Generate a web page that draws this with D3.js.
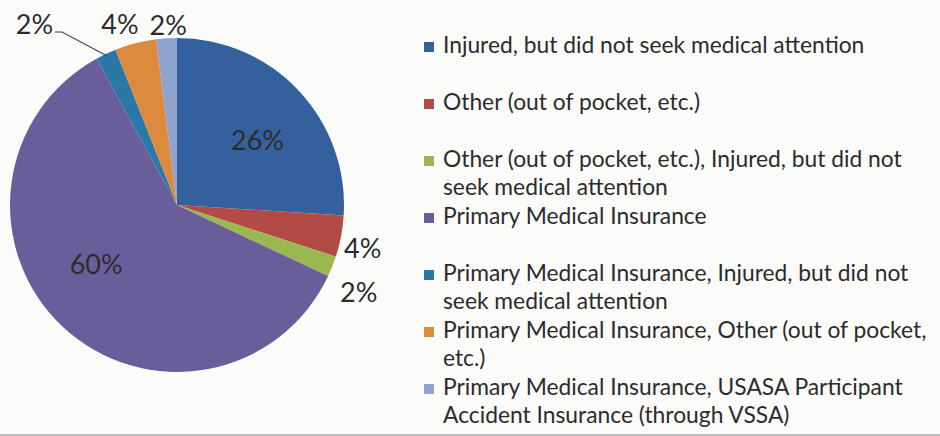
<!DOCTYPE html>
<html>
<head>
<meta charset="utf-8">
<script src="https://cdn.jsdelivr.net/npm/d3@7/dist/d3.min.js"></script>
<style>
  body { margin: 0; background: #fbfbfa; }
  svg { display: block; }
  text { font-family: Lato, "Open Sans", sans-serif; fill: #2b2b2b; }
</style>
</head>
<body>
<svg width="940" height="436"></svg>
<script>
// data
var categories = [
    "Injured, but did not seek medical attention",
    "Other (out of pocket, etc.)",
    "Other (out of pocket, etc.), Injured, but did not seek medical attention",
    "Primary Medical Insurance",
    "Primary Medical Insurance, Injured, but did not seek medical attention",
    "Primary Medical Insurance, Other (out of pocket, etc.)",
    "Primary Medical Insurance, USASA Participant Accident Insurance (through VSSA)"
];
var values = [26, 4, 2, 60, 2, 4, 2];
// legend text as it wraps in the picture
var legendLines = [
    ["Injured, but did not seek medical attention"],
    ["Other (out of pocket, etc.)"],
    ["Other (out of pocket, etc.), Injured, but did not", "seek medical attention"],
    ["Primary Medical Insurance"],
    ["Primary Medical Insurance, Injured, but did not", "seek medical attention"],
    ["Primary Medical Insurance, Other (out of pocket,", "etc.)"],
    ["Primary Medical Insurance, USASA Participant", "Accident Insurance (through VSSA)"]
];
var colors = ["#34609d", "#b24a45", "#9ab84f", "#6a5e9a", "#2b78a8", "#de8a3e", "#8ea3cf"];

function draw(){
    var svg = d3.select("svg"),
        cx = 177, cy = 205, r = 167;

    var color = d3.scaleOrdinal().domain(categories).range(colors);

    var pie = d3.pie().sort(null).value(function(d, i) { return values[i]; });
    var arcs = pie(categories);

    var arc = d3.arc().innerRadius(0).outerRadius(r);
    var inner = d3.arc().innerRadius(r * 0.62).outerRadius(r * 0.62);
    var outer = d3.arc().innerRadius(r + 22).outerRadius(r + 22);

    var g = svg.append("g").attr("transform", "translate(" + cx + "," + cy + ")");

    g.selectAll("path.slice")
        .data(arcs)
        .enter().append("path")
        .attr("class", "slice")
        .attr("d", arc)
        .attr("fill", function(d) { return color(d.data); });

    // label nudges (Excel best fit moves the small ones around)
    var nudge = [[5, 6], [0, 8], [6, 18], [-10, -16], [-62, -9], [-10, 3], [3, 9]];

    g.selectAll("text.lbl")
        .data(arcs)
        .enter().append("text")
        .attr("class", "lbl")
        .attr("text-anchor", "middle")
        .attr("dy", "0.35em")
        .style("font-size", "27px")
        .attr("transform", function(d, i) {
            var p = (d.endAngle - d.startAngle) > 0.5 ? inner.centroid(d) : outer.centroid(d);
            return "translate(" + (p[0] + nudge[i][0]) + "," + (p[1] + nudge[i][1]) + ")";
        })
        .text(function(d) { return d.value + "%"; });

    // leader line for the small teal slice
    var teal = arcs[4];
    var edge = d3.arc().innerRadius(r - 2).outerRadius(r - 2).centroid(teal);
    g.append("polyline")
        .attr("points", [[edge[0], edge[1]], [-115, -173], [-122, -173]].map(function(p) { return p.join(","); }).join(" "))
        .attr("fill", "none")
        .attr("stroke", "#444")
        .attr("stroke-width", 1.2);

    // legend
    var leg = svg.append("g").attr("transform", "translate(424,53)");
    var item = leg.selectAll("g.item")
        .data(categories)
        .enter().append("g")
        .attr("class", "item")
        .attr("transform", function(d, i) { return "translate(0," + (i * 57) + ")"; });

    item.append("rect")
        .attr("x", 0)
        .attr("y", -11)
        .attr("width", 10)
        .attr("height", 10)
        .attr("fill", function(d) { return color(d); });

    item.append("text")
        .style("font-size", "22.8px")
        .selectAll("tspan")
        .data(function(d, i) { return legendLines[i]; })
        .enter().append("tspan")
        .attr("x", 19)
        .attr("y", function(d, j) { return j * 28; })
        .text(function(d) { return d; });

    svg.append("line")
        .attr("x1", 0).attr("x2", 940)
        .attr("y1", 435).attr("y2", 435)
        .attr("stroke", "#777")
        .attr("stroke-width", 1.5)
        .attr("opacity", 0.6);
}
draw();
</script>
</body>
</html>
